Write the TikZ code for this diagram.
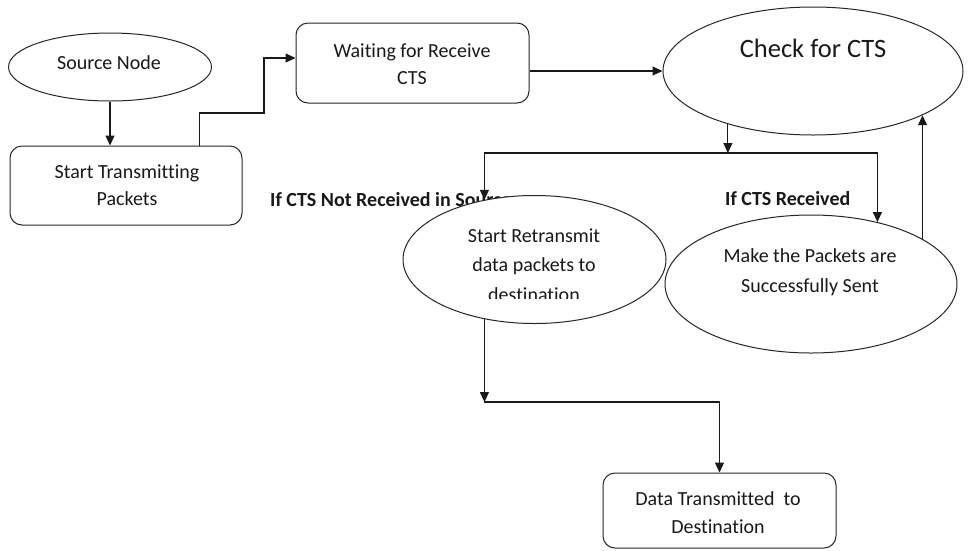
\documentclass[tikz,border=0pt]{standalone}
\usepackage{fontspec}
\setmainfont[Ligatures=NoCommon]{Carlito}
\usetikzlibrary{arrows.meta,shapes.geometric,calc}
\begin{document}
\begin{tikzpicture}[x=1pt,y=-1pt,
  figshape/.style={draw=black!85,line width=1pt,fill=white,inner sep=0pt},
  oval/.style={figshape,ellipse},
  box/.style={figshape,rectangle,rounded corners=12pt},
  lbl/.style={font=\fontsize{20}{28}\selectfont,anchor=base,inner sep=0pt,text=black!90},
  big/.style={lbl,font=\fontsize{26.5}{32}\selectfont},
  cond/.style={lbl,font=\fontsize{20}{28}\selectfont\bfseries,anchor=base west},
  arr/.style={line width=1.1pt,draw=black!90,-{Triangle[length=10pt,width=9pt]}},
  conn/.style={line width=1.1pt,draw=black!90}]
\useasboundingbox[fill=white] (0,0) rectangle (969,550);

% condition labels (drawn first, partly covered by ellipse)
\node[cond] (notrec) at (270,206) {If CTS Not Received in Source};
\node[cond] (rec) at (725,205) {If CTS Received};

% shapes
\node[oval,minimum width=203pt,minimum height=68pt] (src) at (110,67) {};
\node[box,minimum width=232pt,minimum height=79pt] (stx) at (126,185.5) {};
\node[box,minimum width=233pt,minimum height=80pt] (wait) at (412.5,63) {};
\node[oval,minimum width=300pt,minimum height=128pt] (chk) at (813,71) {};
\node[oval,minimum width=292pt,minimum height=138pt] (mk) at (811,284) {};
\node[oval,minimum width=263pt,minimum height=128pt] (rt) at (534.5,259.5) {};
\node[box,minimum width=233pt,minimum height=75pt] (dat) at (719.5,510.5) {};

% texts
\node[lbl] (srcT) at (109,69) {Source Node};
\node[lbl] (stxT1) at (127,178) {Start Transmitting};
\node[lbl] (stxT2) at (127,205) {Packets};
\node[lbl] (waitT1) at (412,57) {Waiting for Receive};
\node[lbl] (waitT2) at (412,84) {CTS};
\node[big] (chkT) at (813,57) {Check for CTS};
\node[lbl] (rtT1) at (534,242) {Start Retransmit};
\node[lbl] (rtT2) at (534,271) {data packets to};
\begin{scope}
  \clip (400,280) rectangle (670,298);
  \node[lbl] (rtT3) at (534,301) {destination};
\end{scope}
\node[lbl] (mkT1) at (810,262) {Make the Packets are};
\node[lbl] (mkT2) at (810,292) {Successfully Sent};
\node[lbl] (datT1) at (718,505) {Data Transmitted~ to};
\node[lbl] (datT2) at (718,533) {Destination};

% connectors
\coordinate (b1) at (264,113);
\coordinate (j1) at (728,153);
\coordinate (j2) at (485,402);
\draw[arr] (src.south) -- (src.south |- stx.north);
\draw[arr] ($(stx.north west)+(190,0)$) |- (b1) |- ($(wait.west)+(0,-5)$);
\draw[arr] (wait.east |- chk.west) -- (chk.west);
\draw[arr] (chk.212) -- (chk.212 |- j1);
\draw[arr] (chk.212 |- j1) -| (rt.130);
\draw[arr] (chk.212 |- j1) -| (mk.43);
\draw[arr] (mk.22) -- (mk.22 |- chk.338);
\draw[arr] (rt.230) -- (rt.230 |- j2);
\draw[arr] (rt.230 |- j2) -| (dat.north);
\end{tikzpicture}
\end{document}
